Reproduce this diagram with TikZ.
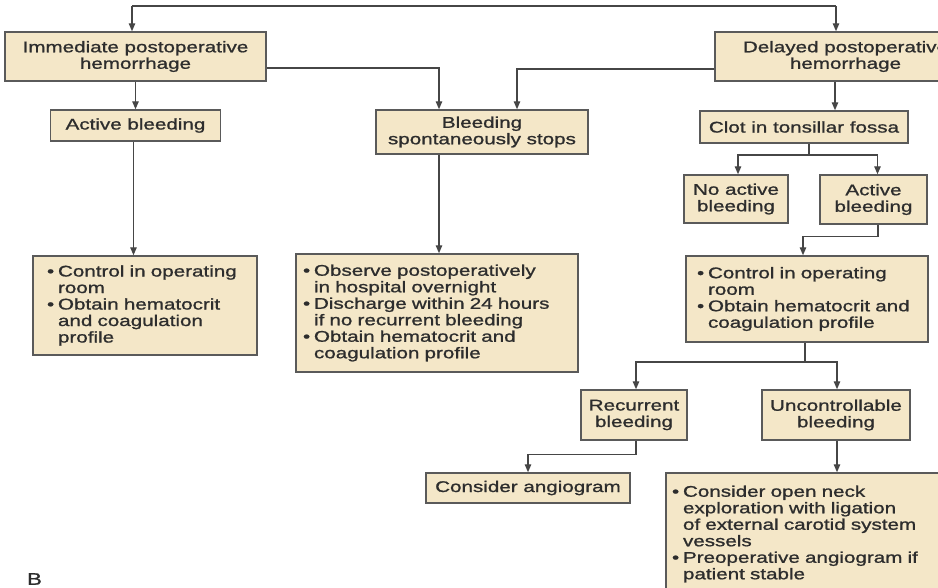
\documentclass[tikz,border=0pt]{standalone}
\usepackage{fontspec}
\setmainfont[FakeStretch=1.33,FakeBold=1.1]{Liberation Sans}
\usetikzlibrary{arrows.meta,calc}
\definecolor{boxfill}{RGB}{244,231,200}
\definecolor{boxline}{RGB}{90,90,90}
\definecolor{conn}{RGB}{70,70,70}
\definecolor{txt}{RGB}{45,45,45}
\newcommand{\bu}{\makebox[11pt][l]{\textbullet}}
\newcommand{\ct}{\hspace*{11pt}}
\begin{document}
\begin{tikzpicture}[x=1pt,y=-1pt,
  box/.style={draw=boxline, fill=boxfill, line width=1.5pt, text=txt,
    font=\fontsize{15.5}{16.5}\selectfont, inner sep=0pt, align=center},
  bbox/.style={box, align=left, inner ysep=0pt},
  arr/.style={draw=conn, line width=1.3pt, -{Triangle[length=8pt,width=6.5pt]}},
  ln/.style={draw=conn, line width=1.3pt}]
\useasboundingbox (0,0) rectangle (938,587);
\clip (0,0) rectangle (938,587);
\fill[white] (0,0) rectangle (938,587);

% boxes
\node[box, minimum width=261pt, minimum height=49pt] (imm) at (135.5,56.5) {Immediate postoperative\\hemorrhage};
\node[box, minimum width=261pt, minimum height=49pt] (del) at (845.5,56.5) {Delayed postoperative\\hemorrhage};
\node[box, minimum width=170pt, minimum height=31pt] (actL) at (135.5,125.5) {Active bleeding};
\node[box, minimum width=212pt, minimum height=44pt] (spont) at (482,132) {Bleeding\\spontaneously stops};
\node[box, minimum width=208pt, minimum height=32pt] (clot) at (804,127) {Clot in tonsillar fossa};
\node[box, minimum width=104pt, minimum height=48pt] (noact) at (736,199) {No active\\bleeding};
\node[box, minimum width=107pt, minimum height=49pt] (actR) at (873.5,199.5) {Active\\bleeding};
\node[bbox, minimum width=224pt, minimum height=99pt, inner xsep=14pt, text width=196pt] (ctrlL) at (145,305.5)
  {\bu Control in operating\\\ct room\\\bu Obtain hematocrit\\\ct and coagulation\\\ct profile};
\node[bbox, minimum width=282pt, minimum height=118pt, inner xsep=7pt, text width=268pt] (obs) at (437,313)
  {\bu Observe postoperatively\\\ct in hospital overnight\\\bu Discharge within 24 hours\\\ct if no recurrent bleeding\\\bu Obtain hematocrit and\\\ct coagulation profile};
\node[bbox, minimum width=242pt, minimum height=86pt, inner xsep=11pt, text width=220pt] (ctrlR) at (807,299)
  {\bu Control in operating\\\ct room\\\bu Obtain hematocrit and\\\ct coagulation profile};
\node[box, minimum width=106pt, minimum height=50pt] (recur) at (634,415) {Recurrent\\bleeding};
\node[box, minimum width=148pt, minimum height=50pt] (unctl) at (836,415) {Uncontrollable\\bleeding};
\node[box, minimum width=204pt, minimum height=30pt] (angio) at (528,488) {Consider angiogram};
\node[bbox, minimum width=290pt, minimum height=122pt, inner xsep=6pt, text width=278pt] (neck) at (811,534)
  {\bu Consider open neck\\\ct exploration with ligation\\\ct of external carotid system\\\ct vessels\\\bu Preoperative angiogram if\\\ct patient stable};

\node[text=txt, font=\fontsize{16.8}{17}\selectfont, inner sep=0pt] (lblB) at (34.5,579) {B};

% connectors
\coordinate (tl) at (132,6);
\coordinate (tr) at (836,6);
\draw[ln] (tl) -- (tr);
\draw[arr] (tl) -- (tl |- imm.north);
\draw[arr] (tr) -- (tr |- del.north);

\draw[arr] (imm.south) -- (actL.north);
\draw[arr] ([yshift=-11.5pt]imm.east) -| ([xshift=-43pt]spont.north);
\draw[arr] ([yshift=-12.5pt]del.west) -| ([xshift=35pt]spont.north);
\draw[arr] ([xshift=-10.5pt]del.south) -- ([xshift=-10.5pt]del.south |- clot.north);

\coordinate (j1) at (809,155);
\draw[ln] (clot.south -| j1) -- (j1);
\draw[arr] (j1) -| ([xshift=2pt]noact.north);
\draw[arr] (j1) -| ([xshift=4pt]actR.north);

\draw[arr] ([xshift=4.5pt]actR.south) -- ++(0,12) -| ([xshift=-4pt]ctrlR.north);

\coordinate (j3) at (805,362);
\draw[ln] (ctrlR.south -| j3) -- (j3);
\draw[arr] (j3) -| ([xshift=2pt]recur.north);
\draw[arr] (j3) -| ([xshift=1pt]unctl.north);

\draw[arr] ([xshift=2pt]recur.south) -- ++(0,14) -| (angio.north);
\draw[arr] ([xshift=1pt]unctl.south) -- ([xshift=1pt]unctl.south |- neck.north);

\draw[arr] ([xshift=-2pt]actL.south) -- ([xshift=-2pt]actL.south |- ctrlL.north);
\draw[arr] ([xshift=-43pt]spont.south) -- ([xshift=-43pt]spont.south |- obs.north);
\end{tikzpicture}
\end{document}
